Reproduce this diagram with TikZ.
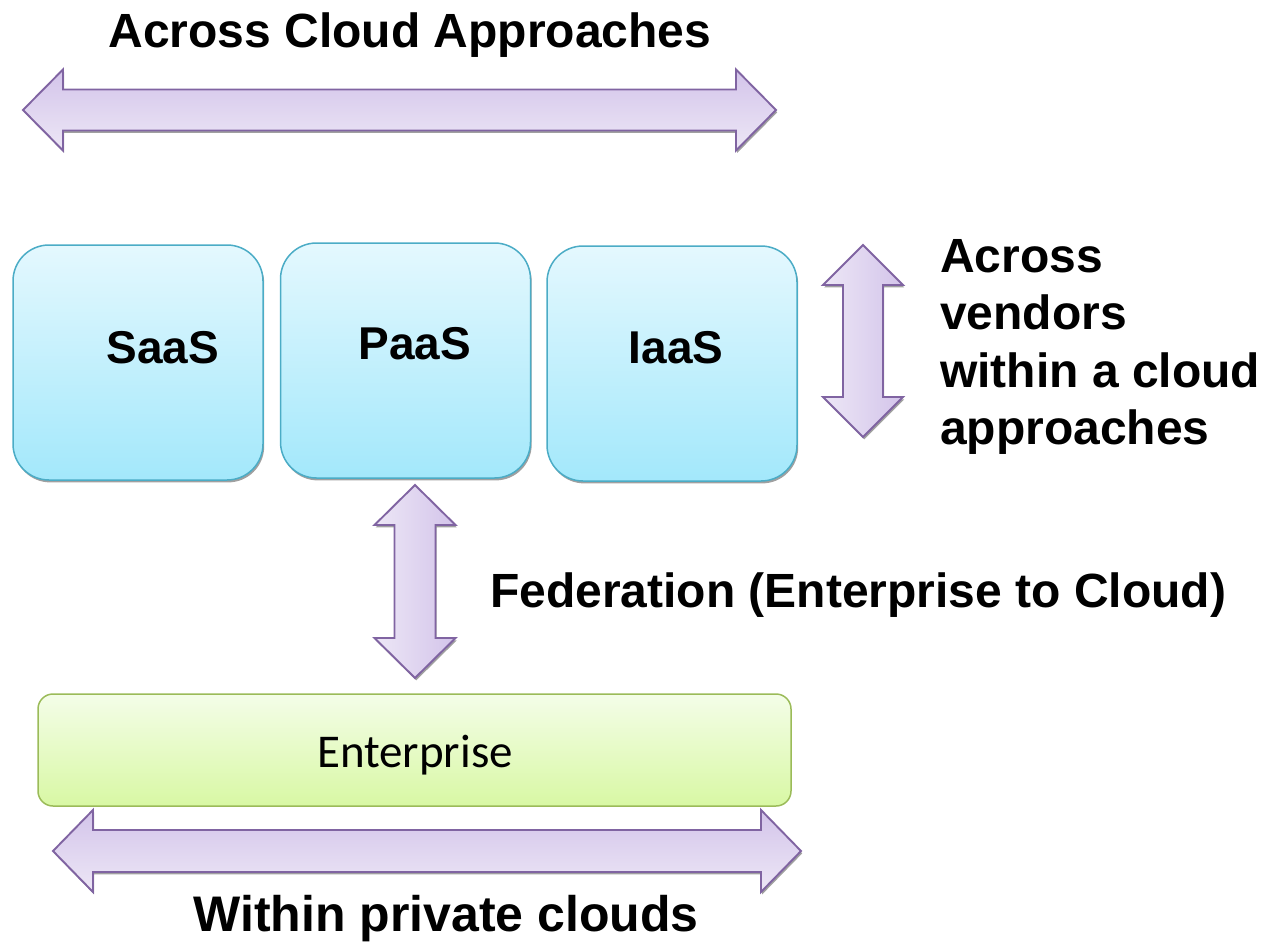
\documentclass[tikz,border=0pt]{standalone}
\usepackage{fontspec}
\setmainfont{Liberation Sans}
\newfontfamily\calfont{Carlito}
\usetikzlibrary{shadows}

\definecolor{arrowline}{HTML}{8064A2}
\definecolor{arrowdark}{HTML}{D3C4EA}
\definecolor{arrowlight}{HTML}{EDE7F6}
\definecolor{aqualine}{HTML}{4BACC6}
\definecolor{aquatop}{HTML}{E4F8FE}
\definecolor{aquabot}{HTML}{A3E8FB}
\definecolor{greenline}{HTML}{9BBB59}
\definecolor{greentop}{HTML}{F4FDE8}
\definecolor{greenbot}{HTML}{D8F8A4}

\tikzset{
  softshadow/.style={drop shadow={shadow xshift=1.2pt, shadow yshift=-2.4pt, fill=black!50, opacity=0.75}},
  blockarrowh/.style={draw=arrowline, line width=1.9pt, line join=miter, top color=arrowdark, bottom color=arrowlight, softshadow},
  blockarrowv/.style={draw=arrowline, line width=1.9pt, line join=miter, left color=arrowlight, right color=arrowdark, softshadow},
  servicebox/.style={draw=aqualine, line width=1.5pt, rounded corners=36pt, minimum width=250pt, minimum height=235pt,
    top color=aquatop, bottom color=aquabot, softshadow},
  enterprisebox/.style={draw=greenline, line width=1.5pt, rounded corners=15pt, minimum width=753pt, minimum height=112pt,
    top color=greentop, bottom color=greenbot},
  heading/.style={font=\bfseries\fontsize{48}{58}\selectfont, inner sep=0pt, anchor=base},
  boxlabel/.style={font=\bfseries\fontsize{46}{55}\selectfont, inner sep=0pt, anchor=base},
}

% horizontal double block arrow: left tip x, right tip x, centre y, half shaft, half head
\newcommand\hblockarrow[5]{%
  \path[blockarrowh] (#1,#3) -- (#1+40,#3-#5) -- (#1+40,#3-#4) -- (#2-40,#3-#4) -- (#2-40,#3-#5)
    -- (#2,#3) -- (#2-40,#3+#5) -- (#2-40,#3+#4) -- (#1+40,#3+#4) -- (#1+40,#3+#5) -- cycle;}
% vertical double block arrow: top tip y, bottom tip y, centre x, half shaft, half head
\newcommand\vblockarrow[5]{%
  \path[blockarrowv] (#3,#1) -- (#3+#5,#1+40) -- (#3+#4,#1+40) -- (#3+#4,#2-40) -- (#3+#5,#2-40)
    -- (#3,#2) -- (#3-#5,#2-40) -- (#3-#4,#2-40) -- (#3-#4,#1+40) -- (#3-#5,#1+40) -- cycle;}

\begin{document}
\begin{tikzpicture}[x=1pt, y=-1pt]
  \path[use as bounding box] (0,0) rectangle (1263,943);

  % title and the arrow spanning the cloud approaches
  \node[heading] (titletop) at (410,47) {Across Cloud Approaches};
  \hblockarrow{23}{776}{110}{20.5}{40.5}

  % the three service models
  \node[servicebox] (saas) at (138,362.5) {};
  \node[servicebox] (paas) at (405.5,360.5) {};
  \node[servicebox] (iaas) at (672,363.5) {};
  \node[boxlabel] (saastext) at (163,363) {SaaS};
  \node[boxlabel] (paastext) at (415,359) {PaaS};
  \node[boxlabel] (iaastext) at (676,363) {IaaS};

  % vendors arrow and its caption
  \vblockarrow{245}{437}{863}{20}{40}
  \node[heading, anchor=base west] (vendors) at (940,272) {Across};
  \node[heading, anchor=base west] (vendors2) at (940,329) {vendors};
  \node[heading, anchor=base west] (vendors3) at (940,387) {within a cloud};
  \node[heading, anchor=base west] (vendors4) at (940,444) {approaches};

  % federation between enterprise and cloud
  \vblockarrow{485}{678}{415}{20.5}{40.5}
  \node[heading, anchor=base west] (federation) at (490,607) {Federation (Enterprise to Cloud)};

  % enterprise
  \node[enterprisebox] (enterprise) at (414.5,750) {};
  \node[font=\calfont\fontsize{47}{56}\selectfont, inner sep=0pt, anchor=base] (enttext) at (415,767) {Enterprise};

  % private clouds arrow and caption
  \hblockarrow{53}{801}{851}{21}{41}
  \node[heading, font=\bfseries\fontsize{50}{60}\selectfont] (titlebottom) at (446,931) {Within private clouds};
\end{tikzpicture}
\end{document}
